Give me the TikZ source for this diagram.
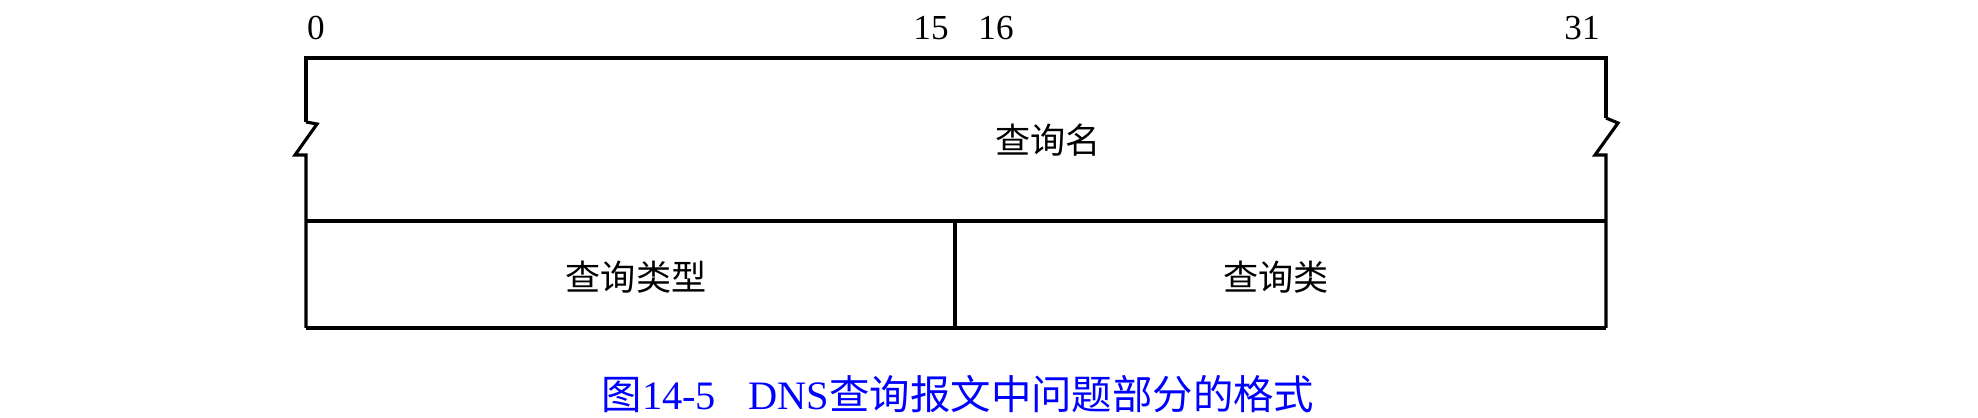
\documentclass[tikz,border=0pt]{standalone}
\usepackage{fontspec}
\setmainfont{Liberation Serif}
\newfontfamily\cjk{Noto Sans CJK SC}
\usepackage{tikz}

\begin{document}
\begin{tikzpicture}[x=0.02cm, y=-0.02cm, line width=1.8pt, line join=miter,
    field/.style={font=\cjk\fontsize{20}{24}\selectfont, inner sep=0pt},
    bit/.style={font=\fontsize{20}{24}\selectfont, inner sep=0pt}]
  \useasboundingbox (0,0) rectangle (1978,418);
  % corners of the box
  \coordinate (tl) at (306,58);
  \coordinate (tr) at (1606,58);
  \coordinate (ml) at (306,221);
  \coordinate (mr) at (1606,221);
  \coordinate (bl) at (306,328);
  \coordinate (br) at (1606,328);
  \coordinate (dt) at (955,221);
  \coordinate (db) at (955,328);
  % break marks
  \coordinate (la) at (306,122);
  \coordinate (lb) at (317,124);
  \coordinate (lc) at (295,155);
  \coordinate (ld) at (306,155);
  \coordinate (ra) at (1606,118);
  \coordinate (rb) at (1618,123);
  \coordinate (rc) at (1595,155);
  \coordinate (rd) at (1606,155);
  \node [bit] (b0) at (316,28) {0};
  \node [bit] (b15) at (931,28) {15};
  \node [bit] (b16) at (996,28) {16};
  \node [bit] (b31) at (1582,28) {31};
  \node [field] (name) at (1048,140) {查询名};
  \node [field] (type) at (636,277) {查询类型};
  \node [field] (class) at (1276,277) {查询类};
  \node [inner sep=0pt, text=blue, font=\fontsize{23}{27}\selectfont] (cap) at (958,394)
    {{\cjk 图}14-5\hspace{0.65cm}DNS{\cjk 查询报文中问题部分的格式}};
  \draw (la) -- (tl) -- (tr) -- (ra);
  \draw (la) -- (lb) -- (lc) -- (ld) -- (bl);
  \draw (ra) -- (rb) -- (rc) -- (rd) -- (br);
  \draw (ml) -- (mr);
  \draw (bl) -- (br);
  \draw (dt) -- (db);
\end{tikzpicture}
\end{document}
